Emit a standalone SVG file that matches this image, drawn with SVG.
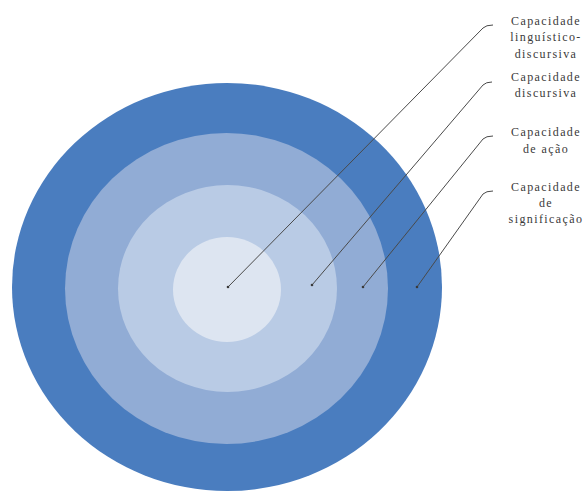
<svg xmlns="http://www.w3.org/2000/svg" width="585" height="493" viewBox="0 0 585 493">
  <style>
    .lbl { font-family: "Liberation Serif", "Times New Roman", serif; font-size: 12px; fill: #3a3a3a; text-anchor: middle; letter-spacing: 1.4px; }
    .conn { fill: none; stroke: #4a4a4a; stroke-width: 1; }
    .dot { fill: #3a3a3a; }
  </style>
  <rect width="585" height="493" fill="#ffffff"/>
  <g id="ring-significacao">
    <ellipse cx="227" cy="287" rx="215" ry="204" fill="#4a7dbf"/>
  </g>
  <g id="ring-acao">
    <ellipse cx="226.5" cy="288.5" rx="161.5" ry="155.5" fill="#91acd5"/>
  </g>
  <g id="ring-discursiva">
    <ellipse cx="227.5" cy="288.5" rx="109.5" ry="103.5" fill="#b9cbe5"/>
  </g>
  <g id="ring-linguistico">
    <ellipse cx="227" cy="289.5" rx="54" ry="52.5" fill="#dde5f1"/>
  </g>
  <g id="connectors">
    <path class="conn" d="M228,287 L483,28 Q486,25 493,25"/>
    <path class="conn" d="M312,285 L483,85 Q486,82 492,82"/>
    <path class="conn" d="M363,287 L483,139 Q486,136 493,136"/>
    <path class="conn" d="M417,287 L483,194 Q486,191 493,191"/>
    <circle class="dot" cx="228" cy="287" r="1.3"/>
    <circle class="dot" cx="312" cy="285" r="1.3"/>
    <circle class="dot" cx="363" cy="287" r="1.3"/>
    <circle class="dot" cx="417" cy="287" r="1.3"/>
  </g>
  <g id="label-linguistico">
    <text class="lbl" x="546" y="25">Capacidade</text>
    <text class="lbl" x="546" y="41">linguístico-</text>
    <text class="lbl" x="546" y="58">discursiva</text>
  </g>
  <g id="label-discursiva">
    <text class="lbl" x="546" y="81">Capacidade</text>
    <text class="lbl" x="546" y="97">discursiva</text>
  </g>
  <g id="label-acao">
    <text class="lbl" x="546" y="136">Capacidade</text>
    <text class="lbl" x="546" y="153">de ação</text>
  </g>
  <g id="label-significacao">
    <text class="lbl" x="546" y="191">Capacidade</text>
    <text class="lbl" x="546" y="207">de</text>
    <text class="lbl" x="546" y="223">significação</text>
  </g>
</svg>
